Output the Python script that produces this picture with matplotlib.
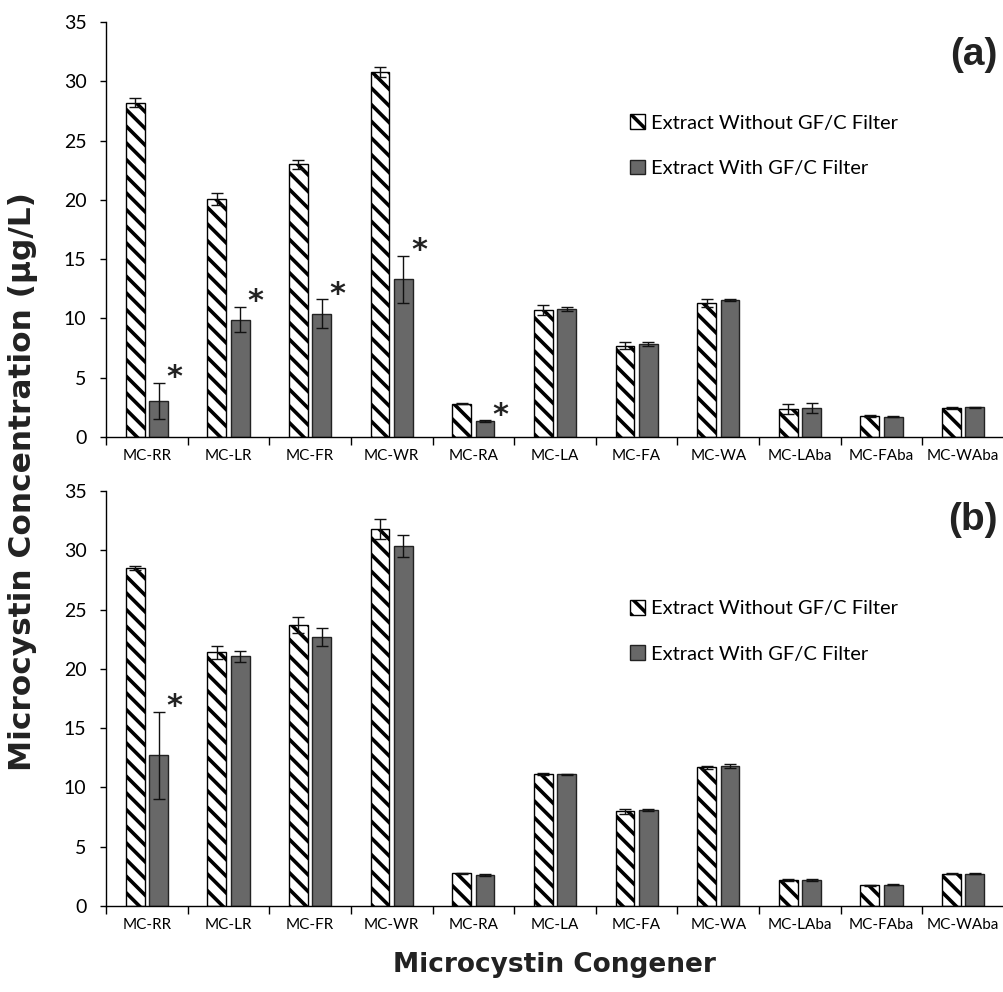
import matplotlib
matplotlib.use("Agg")
import matplotlib.pyplot as plt
import numpy as np
from matplotlib.patches import Patch

categories = ["MC-RR", "MC-LR", "MC-FR", "MC-WR", "MC-RA", "MC-LA", "MC-FA",
              "MC-WA", "MC-LAba", "MC-FAba", "MC-WAba"]

# Panel (a)
a_without = [28.2, 20.1, 23.0, 30.8, 2.8, 10.7, 7.7, 11.3, 2.35, 1.8, 2.45]
a_without_err = [0.35, 0.5, 0.4, 0.4, 0.05, 0.4, 0.3, 0.35, 0.45, 0.08, 0.08]
a_with = [3.05, 9.9, 10.4, 13.3, 1.35, 10.8, 7.85, 11.55, 2.42, 1.72, 2.52]
a_with_err = [1.5, 1.05, 1.2, 2.0, 0.05, 0.15, 0.15, 0.1, 0.42, 0.05, 0.05]
a_sig = [True, True, True, True, True, False, False, False, False, False, False]

# Panel (b)
b_without = [28.5, 21.4, 23.7, 31.8, 2.75, 11.1, 8.0, 11.7, 2.17, 1.75, 2.72]
b_without_err = [0.2, 0.55, 0.65, 0.85, 0.05, 0.08, 0.2, 0.15, 0.08, 0.05, 0.05]
b_with = [12.7, 21.05, 22.7, 30.35, 2.62, 11.1, 8.1, 11.8, 2.2, 1.8, 2.72]
b_with_err = [3.65, 0.5, 0.75, 0.95, 0.1, 0.02, 0.05, 0.2, 0.05, 0.05, 0.05]
b_sig = [True, False, False, False, False, False, False, False, False, False, False]

legend_labels = ["Extract Without GF/C Filter", "Extract With GF/C Filter"]

plt.rcParams['hatch.linewidth'] = 2.6
fig = plt.figure(figsize=(10.04, 9.92), dpi=100)
ax_a = fig.add_axes([0.1056, 0.5595, 0.8944, 0.4183])
ax_b = fig.add_axes([0.1056, 0.0867, 0.8944, 0.4183])

gray = "#686868"
x = np.arange(len(categories))
w = 0.23
off = 0.143
tickfont = "Lato"

def draw(ax, wo, woe, wi, wie, sig, label, legy, laby):
    ax.bar(x - off, wo, w, color="white", edgecolor="black", hatch="\\\\",
           linewidth=1.0, zorder=2)
    ax.bar(x + off, wi, w, color=gray, edgecolor="#222222", linewidth=1.0, zorder=2)
    ax.errorbar(x - off, wo, yerr=woe, fmt="none", ecolor="#111111",
                elinewidth=1.0, capsize=4, capthick=1.0, zorder=3)
    ax.errorbar(x + off, wi, yerr=wie, fmt="none", ecolor="#111111",
                elinewidth=1.0, capsize=4, capthick=1.0, zorder=3)
    for i, s in enumerate(sig):
        if s:
            ax.text(x[i] + off + 0.19, wi[i] + wie[i] + 0.45, "*", ha="center",
                    va="center", fontsize=22, fontweight="bold", color="#222222",
                    family="DejaVu Sans")
    ax.set_xlim(-0.5, len(categories) - 0.5)
    ax.set_ylim(0, 35)
    ax.set_yticks(np.arange(0, 36, 5))
    ax.set_xticks(x)
    ax.set_xticklabels(categories, fontsize=11, family=tickfont)
    ax.set_xticks(np.arange(-0.5, len(categories), 1.0), minor=True)
    ax.tick_params(axis="x", which="major", length=0, pad=9)
    ax.tick_params(axis="x", which="minor", length=6, direction="out", width=1)
    ax.tick_params(axis="y", length=4, direction="out", width=1, labelsize=14,
                   pad=10)
    for t in ax.get_yticklabels():
        t.set_family(tickfont)
    ax.spines["top"].set_visible(False)
    ax.spines["right"].set_visible(False)
    ax.spines["left"].set_linewidth(1.0)
    ax.spines["bottom"].set_linewidth(1.0)
    ax.text(0.993, laby, label, transform=ax.transAxes, ha="right", va="center",
            fontsize=28, fontweight="bold", family="Liberation Sans",
            color="#222222")
    handles = [Patch(facecolor="white", edgecolor="black", hatch="\\\\"),
               Patch(facecolor=gray, edgecolor="#222222")]
    ax.legend(handles, legend_labels, loc="upper left", bbox_to_anchor=(0.583, legy),
              frameon=False, prop={"family": tickfont, "size": 14.5},
              handlelength=0.75, handleheight=0.75, handletextpad=0.3,
              labelspacing=1.4, borderaxespad=0, borderpad=0)

draw(ax_a, a_without, a_without_err, a_with, a_with_err, a_sig, "(a)", 0.778, 0.92)
draw(ax_b, b_without, b_without_err, b_with, b_with_err, b_sig, "(b)", 0.738, 0.93)

fig.text(0.023, 0.515, "Microcystin Concentration (\u03bcg/L)", rotation=90,
         ha="center", va="center", fontsize=22.5, fontweight="bold",
         family="DejaVu Sans", color="#222222")
fig.text(0.552, 0.027, "Microcystin Congener", ha="center", va="center",
         fontsize=19, fontweight="bold", family="DejaVu Sans", color="#222222")

fig.savefig("out.png", dpi=100)
